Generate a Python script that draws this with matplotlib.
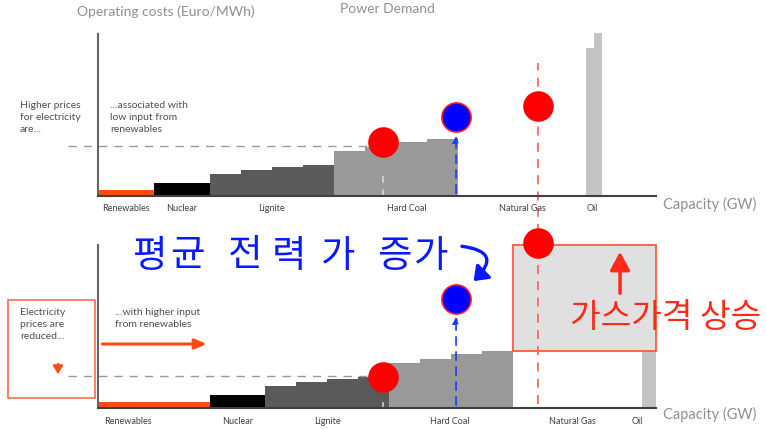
import matplotlib.pyplot as plt
from matplotlib.patches import Rectangle, FancyArrowPatch

plt.rcParams['font.family'] = ['Lato', 'Noto Sans CJK KR', 'DejaVu Sans']

# Merit order: capacity blocks (GW) and operating costs (Euro/MWh)
renew_cap_low = 18          # low renewables case
renew_cap_high = 36         # high renewables case
nuclear_cap = 18
lignite_caps = [10, 10, 10, 10]
coal_caps = [10, 10, 10, 10]
gas_cap = 41.5
oil_caps = [2.5, 2.5]

renew_cost = 6
nuclear_cost = 13
lignite_costs = [22, 26, 29, 31]
coal_costs = [45, 49, 54, 57]
oil_costs = [148, 163]

# demand points (capacity, price)
demand_low = (92, 54)
demand_low_price = 50
demand_mid_top = (115.5, 79)
demand_mid_bot = (115.5, 109)
gas_demand = 142
gas_price_top = 90
gas_price_bot = 165
demand_high = (92, 31)
demand_high_price = 32

top_labels = ['Renewables', 'Nuclear', 'Lignite', 'Hard Coal', 'Natural Gas', 'Oil']
top_label_x = [9, 27, 56, 99.5, 137, 159.5]
bot_label_x = [9.5, 45, 74, 113.5, 153, 174]

# hand-written note, one glyph at a time (loose spacing)
note_chars = ['평', '균', '전', '력', '가', '증', '가']
note_x = [16.5, 28.7, 47.4, 61.5, 77.5, 95.5, 107.4]

W, H = 766, 429
fig = plt.figure(figsize=(W / 100, H / 100), dpi=100)


def fx(px):
    return px / W


def fy(py):
    return 1 - py / H


ax_top = fig.add_axes([fx(98), fy(196), 558 / W, 165 / H])
ax_bot = fig.add_axes([fx(98), fy(408), 558 / W, 175 / H])
ax_top.set_ylim(0, 165)
ax_bot.set_ylim(0, 175)

orange = '#ff4a12'
lig = '#5a5a5a'
coalc = '#999999'
oilc = '#c4c4c4'


def draw_merit(ax, renew_cap):
    x = 0
    ax.bar(x, renew_cost, width=renew_cap, align='edge', color=orange, lw=0)
    x += renew_cap
    ax.bar(x, nuclear_cost, width=nuclear_cap, align='edge', color='black', lw=0)
    x += nuclear_cap
    for w, c in zip(lignite_caps, lignite_costs):
        ax.bar(x, c, width=w, align='edge', color=lig, lw=0)
        x += w
    for w, c in zip(coal_caps, coal_costs):
        ax.bar(x, c, width=w, align='edge', color=coalc, lw=0)
        x += w
    coal_end = x
    x += gas_cap
    for w, c in zip(oil_caps, oil_costs):
        ax.bar(x, c, width=w, align='edge', color=oilc, lw=0)
        x += w
    return coal_end


draw_merit(ax_top, renew_cap_low)
coal_end_bot = draw_merit(ax_bot, renew_cap_high)

for ax in (ax_top, ax_bot):
    ax.set_xlim(0, 180)
    for s in ('top', 'right'):
        ax.spines[s].set_visible(False)
    ax.spines['left'].set_color('#6b6363')
    ax.spines['left'].set_linewidth(1.5)
    ax.spines['bottom'].set_color('#404040')
    ax.spines['bottom'].set_linewidth(1.5)
    ax.set_xticks([])
    ax.set_yticks([])
    ax.patch.set_alpha(0)
ax_top.spines['left'].set_bounds(0, 162)
ax_bot.spines['left'].set_bounds(0, 163)

# gas price rise box
ax_bot.add_patch(Rectangle((coal_end_bot, coal_costs[-1]), 180 - coal_end_bot,
                           163 - coal_costs[-1], facecolor='#e0e0e0',
                           edgecolor='#ff5a3c', lw=1.3, zorder=3, clip_on=False))
ax_bot.annotate('', xy=(168.4, 159), xytext=(168.4, 112),
                arrowprops=dict(arrowstyle='-|>,head_width=0.6,head_length=1.1',
                                color='#ff2a1a', lw=2.5), zorder=6)
ax_bot.text(152.3, 90, '가스가격 상승', color='#ff2a1a', fontsize=24,
            family=['Noto Sans CJK KR'], va='center', ha='left', clip_on=False, zorder=7)

# price lines and demand markers
ax_top.plot([-9.7, demand_low[0]], [demand_low_price] * 2, ls=(0, (6, 5)),
            color='#9a9a9a', lw=1, clip_on=False)
ax_bot.plot([-9.7, demand_high[0]], [demand_high_price] * 2, ls=(0, (6, 5)),
            color='#9a9a9a', lw=1, clip_on=False)
ax_top.plot([demand_low[0]] * 2, [0, 26], ls=(0, (4, 4)), color='#d8d8d8', lw=1.2)
ax_bot.plot([demand_high[0]] * 2, [0, 5], color='#d0d0d0', lw=1.2)

ax_top.plot([gas_demand] * 2, [-37, 133], ls=(0, (5, 4)), color='#ff6a5a', lw=1.3,
            clip_on=False)
ax_bot.plot([gas_demand] * 2, [4, 175], ls=(0, (5, 4)), color='#ff6a5a', lw=1.3,
            clip_on=False, zorder=4)

ax_top.annotate('', xy=(demand_mid_top[0], 63), xytext=(demand_mid_top[0], 0),
                arrowprops=dict(arrowstyle='-|>,head_width=0.2,head_length=0.4',
                                color='#1a3cff', lw=1.2, ls=(0, (5, 4))))
ax_bot.annotate('', xy=(demand_mid_bot[0], 94), xytext=(demand_mid_bot[0], 0),
                arrowprops=dict(arrowstyle='-|>,head_width=0.2,head_length=0.4',
                                color='#1a3cff', lw=1.2, ls=(0, (5, 4))))

ms = 21
ax_top.plot(*demand_low, 'o', ms=ms, color='#ff0000', mec='#ff0000', zorder=5)
ax_top.plot(*demand_mid_top, 'o', ms=ms, color='#0000ff', mec='#ff2020', mew=1.2, zorder=5)
ax_top.plot(gas_demand, gas_price_top, 'o', ms=ms, color='#ff0000', zorder=5)
ax_bot.plot(*demand_high, 'o', ms=ms, color='#ff0000', zorder=5, clip_on=False)
ax_bot.plot(*demand_mid_bot, 'o', ms=ms, color='#0000ff', mec='#ff2020', mew=1.2, zorder=5)
ax_bot.plot(gas_demand, gas_price_bot, 'o', ms=ms, color='#ff0000', zorder=8, clip_on=False)

# renewables expansion arrow
ax_bot.annotate('', xy=(renew_cap_high, 64), xytext=(0.5, 64),
                arrowprops=dict(arrowstyle='-|>,head_width=0.3,head_length=0.7',
                                color=orange, lw=2.2))

# handwritten note
for ch, x in zip(note_chars, note_x):
    ax_bot.text(x, 152, ch, color='#0a1aff', fontsize=27,
                family=['Noto Sans CJK KR'], va='center', ha='center', clip_on=False)
curl = FancyArrowPatch((116.5, 162), (120.5, 125), connectionstyle='arc3,rad=-1.1',
                       arrowstyle='-|>,head_width=6,head_length=8', color='#0a1aff',
                       lw=2.4, clip_on=False)
ax_bot.add_patch(curl)

# category labels
for lab, x in zip(top_labels, top_label_x):
    ax_top.text(x, -12, lab, ha='center', va='center', fontsize=6.5, color='#404040',
                clip_on=False)
for lab, x in zip(top_labels, bot_label_x):
    ax_bot.text(x, -14, lab, ha='center', va='center', fontsize=6.5, color='#404040',
                clip_on=False)

grey = '#909090'
fig.text(fx(77), fy(12), 'Operating costs (Euro/MWh)', fontsize=10, color=grey,
         va='center')
fig.text(fx(340), fy(9), 'Power Demand', fontsize=10, color=grey, va='center')
fig.text(fx(663), fy(204), 'Capacity (GW)', fontsize=10.5, color=grey, va='center')
fig.text(fx(663), fy(414), 'Capacity (GW)', fontsize=10.5, color=grey, va='center')

small = dict(fontsize=7.5, color='#505050', va='top', linespacing=1.45)
fig.text(fx(20), fy(101), 'Higher prices\nfor electricity\nare...', **small)
fig.text(fx(110), fy(101), '...associated with\nlow input from\nrenewables', **small)
fig.text(fx(20), fy(308), 'Electricity\nprices are\nreduced...', **small)
fig.text(fx(115), fy(308), '...with higher input\nfrom renewables', **small)

fig.add_artist(Rectangle((fx(8), fy(398)), fx(95) - fx(8), fy(300) - fy(398),
                         transform=fig.transFigure, fill=False, edgecolor='#ff6a50',
                         lw=1.2))
fig.add_artist(FancyArrowPatch((fx(58), fy(361)), (fx(58), fy(377)),
                               transform=fig.transFigure, color=orange, lw=1.5,
                               arrowstyle='-|>,head_width=3,head_length=5'))

fig.savefig('out.png', dpi=100)
